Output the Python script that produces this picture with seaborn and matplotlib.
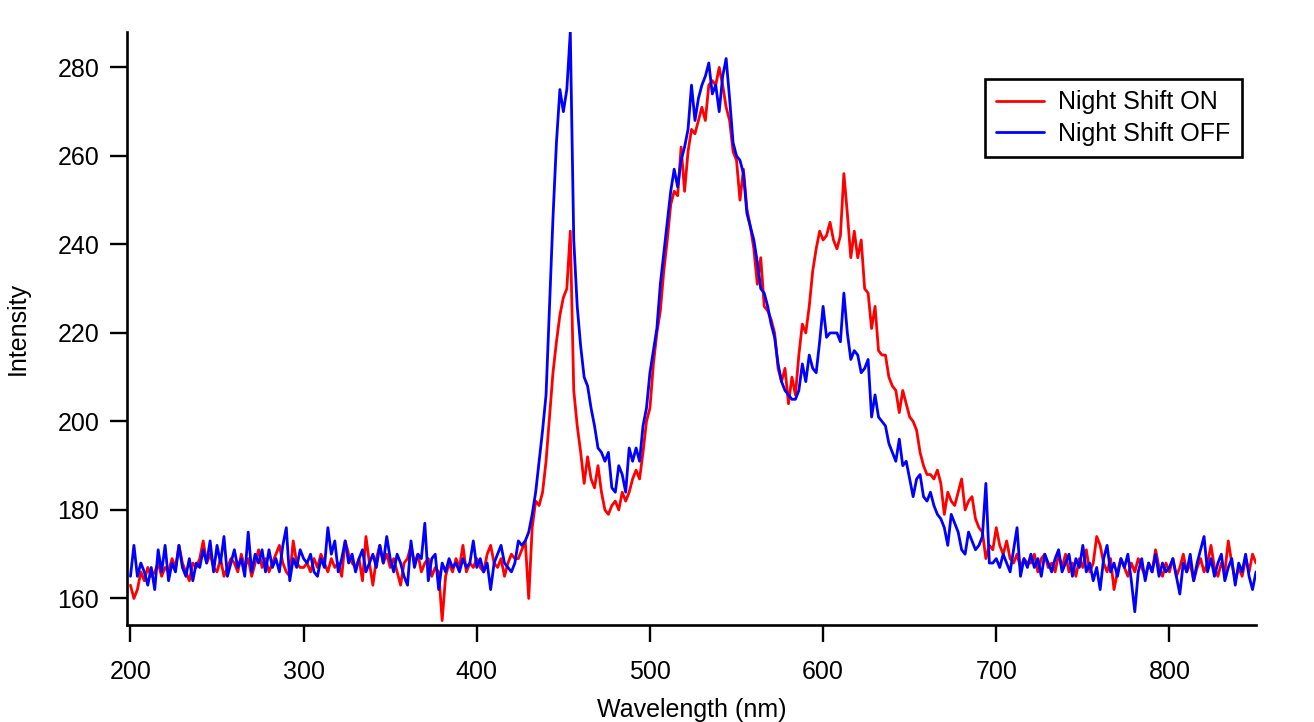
import numpy as np
import pandas as pd
import seaborn as sns
import matplotlib.pyplot as plt

# Wavelength grid (nm), one reading every 2 nm
wavelength = np.arange(200, 851, 2)

# Intensity, Night Shift ON (red)
night_on = [
    163, 160, 162, 166, 164, 167, 165, 166, 168, 165,   # 200-218
    167, 166, 169, 167, 172, 168, 166, 164, 168, 167,   # 220-238
    169, 173, 168, 170, 167, 166, 169, 165, 167, 169,   # 240-258
    168, 166, 170, 167, 169, 165, 168, 171, 167, 169,   # 260-278
    166, 168, 170, 172, 168, 166, 165, 173, 168, 167,   # 280-298
    167, 168, 166, 169, 167, 170, 168, 166, 169, 167,   # 300-318
    168, 165, 173, 170, 168, 167, 169, 164, 174, 168,   # 320-338
    163, 169, 172, 168, 170, 167, 169, 166, 163, 168,   # 340-358
    169, 172, 168, 170, 166, 168, 169, 165, 167, 166,   # 360-378
    155, 165, 168, 166, 169, 167, 172, 166, 168, 167,   # 380-398
    169, 167, 166, 170, 172, 168, 167, 169, 165, 168,   # 400-418
    170, 169, 169, 171, 173, 160, 176, 182, 181, 184,   # 420-438
    191, 201, 211, 218, 224, 228, 230, 243, 207, 199,   # 440-458
    193, 186, 192, 187, 185, 190, 184, 180, 179, 181,   # 460-478
    182, 180, 184, 182, 184, 187, 189, 187, 193, 200,   # 480-498
    203, 213, 220, 225, 234, 241, 249, 252, 251, 262,   # 500-518
    252, 261, 266, 265, 268, 271, 268, 276, 277, 276,   # 520-538
    280, 276, 271, 268, 261, 259, 250, 257, 248, 244,   # 540-558
    239, 231, 237, 226, 225, 223, 220, 212, 209, 212,   # 560-578
    204, 210, 206, 215, 222, 220, 226, 234, 239, 243,   # 580-598
    241, 242, 245, 241, 239, 242, 256, 247, 237, 243,   # 600-618
    237, 241, 230, 229, 221, 226, 216, 215, 215, 210,   # 620-638
    208, 207, 202, 207, 204, 201, 200, 198, 193, 190,   # 640-658
    188, 188, 187, 189, 186, 179, 184, 182, 181, 184,   # 660-678
    187, 180, 182, 183, 178, 176, 175, 169, 172, 171,   # 680-698
    176, 172, 170, 173, 169, 168, 170, 167, 169, 168,   # 700-718
    168, 170, 166, 169, 170, 167, 168, 166, 170, 167,   # 720-738
    170, 166, 168, 165, 169, 167, 171, 166, 168, 174,   # 740-758
    172, 168, 166, 169, 162, 166, 169, 167, 165, 168,   # 760-778
    166, 169, 167, 165, 168, 166, 171, 167, 165, 168,   # 780-798
    166, 169, 165, 167, 170, 166, 168, 164, 167, 169,   # 800-818
    166, 168, 172, 167, 165, 168, 166, 173, 168, 164,   # 820-838
    167, 165, 169, 166, 170, 168,                       # 840-850
]

# Intensity, Night Shift OFF (blue)
night_off = [
    165, 172, 165, 168, 166, 163, 167, 162, 171, 166,   # 200-218
    172, 164, 168, 166, 172, 167, 165, 169, 164, 168,   # 220-238
    167, 171, 168, 173, 166, 172, 168, 174, 165, 168,   # 240-258
    171, 167, 169, 165, 175, 166, 170, 168, 171, 166,   # 260-278
    171, 167, 169, 166, 172, 176, 164, 169, 167, 171,   # 280-298
    169, 168, 170, 166, 165, 169, 167, 176, 170, 173,   # 300-318
    166, 169, 173, 168, 170, 166, 169, 171, 166, 168,   # 320-338
    170, 167, 172, 168, 174, 169, 166, 170, 168, 165,   # 340-358
    163, 173, 167, 170, 169, 177, 164, 169, 170, 162,   # 360-378
    168, 166, 169, 167, 168, 166, 169, 167, 168, 173,   # 380-398
    167, 169, 166, 168, 162, 168, 170, 172, 168, 167,   # 400-418
    166, 168, 173, 172, 173, 175, 179, 184, 191, 198,   # 420-438
    206, 226, 246, 263, 275, 270, 275, 288, 241, 226,   # 440-458
    217, 210, 208, 203, 199, 194, 193, 191, 193, 185,   # 460-478
    184, 190, 188, 184, 194, 191, 194, 191, 199, 203,   # 480-498
    211, 216, 221, 231, 238, 245, 252, 257, 253, 259,   # 500-518
    262, 266, 276, 268, 273, 276, 278, 281, 274, 276,   # 520-538
    270, 278, 282, 273, 263, 260, 259, 256, 247, 244,   # 540-558
    241, 236, 230, 229, 226, 222, 219, 213, 209, 207,   # 560-578
    206, 205, 205, 207, 213, 209, 215, 212, 211, 218,   # 580-598
    226, 219, 220, 220, 220, 218, 229, 220, 214, 216,   # 600-618
    215, 211, 212, 214, 201, 206, 201, 200, 199, 195,   # 620-638
    193, 191, 196, 190, 191, 187, 183, 187, 188, 183,   # 640-658
    182, 184, 181, 179, 178, 176, 172, 179, 177, 175,   # 660-678
    171, 170, 175, 173, 171, 172, 174, 186, 168, 168,   # 680-698
    169, 167, 170, 168, 166, 171, 176, 165, 169, 167,   # 700-718
    170, 167, 169, 165, 170, 168, 166, 169, 171, 166,   # 720-738
    168, 170, 165, 169, 167, 172, 166, 168, 164, 167,   # 740-758
    162, 169, 172, 166, 168, 165, 169, 167, 170, 164,   # 760-778
    157, 166, 169, 164, 168, 166, 170, 165, 168, 166,   # 780-798
    167, 169, 165, 161, 168, 166, 170, 164, 168, 171,   # 800-818
    174, 166, 169, 165, 168, 170, 164, 167, 169, 163,   # 820-838
    168, 166, 170, 165, 162, 166,                       # 840-850
]

labels = ["Night Shift ON", "Night Shift OFF"]
colors = ["#ff0000", "#0000ff"]

# Long format for seaborn
df = pd.concat([
    pd.DataFrame({"Wavelength": wavelength, "Intensity": night_on, "Mode": labels[0]}),
    pd.DataFrame({"Wavelength": wavelength, "Intensity": night_off, "Mode": labels[1]}),
])

sns.set_style("ticks")
plt.rcParams["font.family"] = ["Liberation Sans", "DejaVu Sans"]
plt.rcParams["text.color"] = "black"
plt.rcParams["axes.labelcolor"] = "black"
plt.rcParams["xtick.color"] = "black"
plt.rcParams["ytick.color"] = "black"

fs = 18

fig = plt.figure(figsize=(13.14, 7.22), dpi=100)
ax = fig.add_axes([127 / 1314, 97 / 722, (1256 - 127) / 1314, (625 - 32) / 722])

sns.lineplot(
    data=df, x="Wavelength", y="Intensity", hue="Mode",
    hue_order=labels, palette=dict(zip(labels, colors)),
    estimator=None, sort=True, linewidth=2.0, ax=ax,
)

ax.set_xlim(198, 850)
ax.set_ylim(154, 288)
ax.set_xticks([200, 300, 400, 500, 600, 700, 800])
ax.set_yticks([160, 180, 200, 220, 240, 260, 280])
ax.set_xlabel("Wavelength (nm)", fontsize=fs, labelpad=10)
ax.set_ylabel("Intensity", fontsize=fs, labelpad=20)

for side in ["top", "right"]:
    ax.spines[side].set_visible(False)
for side in ["left", "bottom"]:
    ax.spines[side].set_linewidth(1.9)
    ax.spines[side].set_color("black")
ax.tick_params(axis="both", direction="out", length=12, width=1.7,
               labelsize=fs, colors="black")
ax.tick_params(axis="x", pad=13)
ax.tick_params(axis="y", pad=8)

leg = ax.legend(
    loc="upper right", bbox_to_anchor=(1242 / 1314, 1 - 79 / 722),
    bbox_transform=fig.transFigure, borderaxespad=0, fontsize=fs,
    frameon=True, fancybox=False, handlelength=1.9, handletextpad=0.6,
    labelspacing=0.3, borderpad=0.45,
)
leg.get_frame().set_edgecolor("black")
leg.get_frame().set_linewidth(1.9)
leg.get_frame().set_alpha(1)
for line in leg.get_lines():
    line.set_linewidth(2.0)

plt.savefig("out.png", dpi=100)
